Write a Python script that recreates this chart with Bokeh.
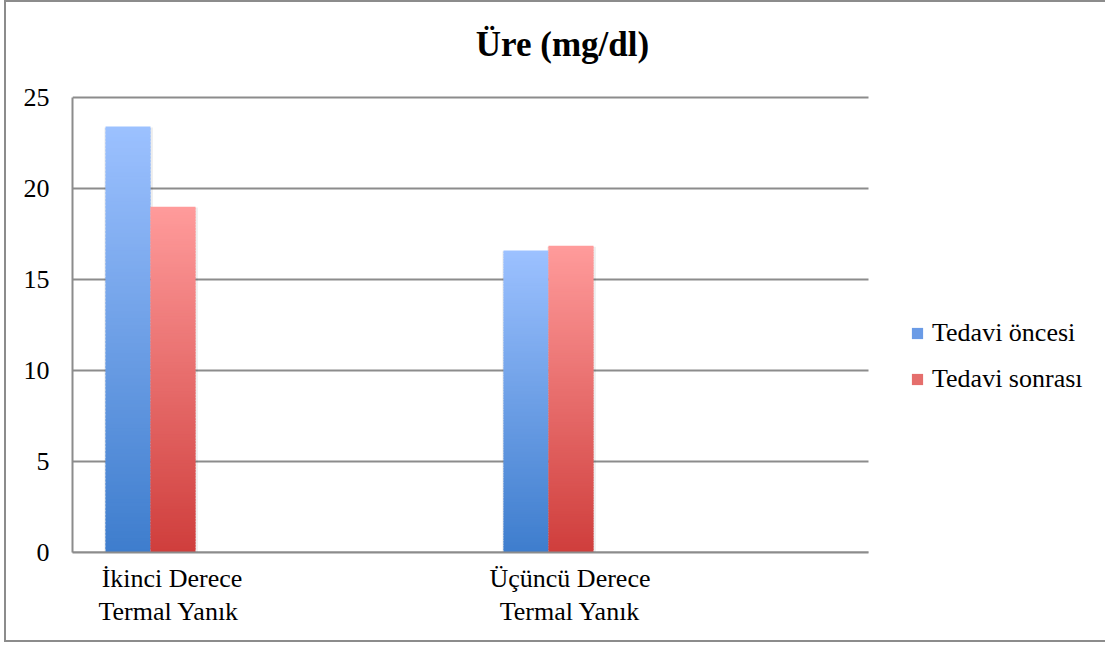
import numpy as np
from bokeh.plotting import figure
from bokeh.models import Range1d, FixedTicker, Legend, LegendItem, Label, ColumnDataSource
from bokeh.embed import file_html
from bokeh.resources import INLINE

title = "Üre (mg/dl)"
categories = ["İkinci Derece\nTermal  Yanık", "Üçüncü Derece\nTermal Yanık"]
series_names = ["Tedavi öncesi", "Tedavi sonrası"]
before = [23.4, 16.6]
after = [19.0, 16.85]
y_ticks = [0, 5, 10, 15, 20, 25]

FONT = "Liberation Serif"
blue_top, blue_bot = (156, 193, 255), (62, 125, 205)
red_top, red_bot = (255, 155, 155), (207, 62, 60)
GRAY = "#8c8c8c"

W, H = 1101, 642
LEFT, BOTTOM = 66, 92
frame_w, frame_h = W - LEFT, H - BOTTOM
px_x = 398.0          # pixels per category
px_y = 455.0 / 25.0   # pixels per unit
p = figure(width=W, height=H, output_backend="svg", toolbar_location=None,
           x_range=Range1d(0, frame_w / px_x), y_range=Range1d(0, frame_h / px_y),
           min_border_left=LEFT, min_border_right=0, min_border_top=0, min_border_bottom=BOTTOM)
p.styles = {"margin-left": "4px", "border": "2px solid #8c8c8c", "border-right": "none"}
p.outline_line_color = None
p.background_fill_color = "white"
p.border_fill_color = "white"

def hexc(c):
    return "#%02x%02x%02x" % tuple(int(round(v)) for v in c)

n_cat = len(categories)
ymax = max(y_ticks)

# gridlines across the plot area only
p.segment(x0=[0] * len(y_ticks), x1=[n_cat] * len(y_ticks), y0=y_ticks, y1=y_ticks,
          line_color=GRAY, line_width=2)

N = 120
bw = 0.113
group_off = 0.196
def gradient_bars(values, offset, top, bot):
    l, r, b, t, cols = [], [], [], [], []
    for i, v in enumerate(values):
        xc = i + group_off + offset
        for k in range(N):
            f = (k + 0.5) / N
            c = [bot[j] + (top[j] - bot[j]) * f for j in range(3)]
            l.append(xc - bw / 2); r.append(xc + bw / 2)
            b.append(v * k / N); t.append(min(v, v * (k + 1.6) / N))
            cols.append(hexc(c))
    src = ColumnDataSource(dict(left=l, right=r, bottom=b, top=t, color=cols))
    p.quad(left="left", right="right", bottom="bottom", top="top", fill_color="color",
           line_color=None, source=src)

# faint shadows
for vals, off in ((before, -bw / 2), (after, bw / 2)):
    for i, v in enumerate(vals):
        xc = i + group_off + off
        p.quad(left=xc - bw / 2 - 0.003, right=xc + bw / 2 + 0.006, bottom=0, top=v - 0.05,
               fill_color="black", fill_alpha=0.07, line_color=None)

gradient_bars(before, -bw / 2, blue_top, blue_bot)
gradient_bars(after, bw / 2, red_top, red_bot)

# axes
label_pos = [i + 0.25 for i in range(n_cat)]
p.xaxis.ticker = FixedTicker(ticks=label_pos)
p.xaxis.major_label_overrides = {pos: lab for pos, lab in zip(label_pos, categories)}
p.xaxis.bounds = (0, n_cat)
p.yaxis.ticker = FixedTicker(ticks=y_ticks)
p.yaxis.bounds = (0, ymax)
for ax in (p.xaxis, p.yaxis):
    ax.axis_line_color = GRAY
    ax.axis_line_width = 2
    ax.major_tick_line_color = None
    ax.minor_tick_line_color = None
    ax.major_label_text_font = FONT
    ax.major_label_text_font_size = "26px"
    ax.major_label_text_color = "black"
p.yaxis.major_label_standoff = 17
p.xaxis.major_label_standoff = 5
p.xaxis.major_label_text_line_height = 1.15
p.xgrid.grid_line_color = None
p.ygrid.grid_line_color = None

# legend
r1 = p.quad(left=[np.nan], right=[np.nan], bottom=[np.nan], top=[np.nan],
            fill_color="#6a9be6", line_color=None)
r2 = p.quad(left=[np.nan], right=[np.nan], bottom=[np.nan], top=[np.nan],
            fill_color="#e56e6c", line_color=None)
legend = Legend(items=[LegendItem(label=series_names[0], renderers=[r1]),
                       LegendItem(label=series_names[1], renderers=[r2])],
                location=(838, 158), padding=0, margin=0, border_line_color=None,
                background_fill_alpha=0, glyph_width=14, glyph_height=14,
                label_height=24, spacing=16, label_standoff=8,
                label_text_font=FONT, label_text_font_size="26px", label_text_color="black")
p.add_layout(legend)

p.add_layout(Label(x=490, y=frame_h - 42, x_units="screen", y_units="screen", text=title,
                   text_font=FONT, text_font_size="35px", text_font_style="bold",
                   text_color="black", text_align="center", text_baseline="middle"))

open("out.html", "w").write(file_html(p, INLINE))
